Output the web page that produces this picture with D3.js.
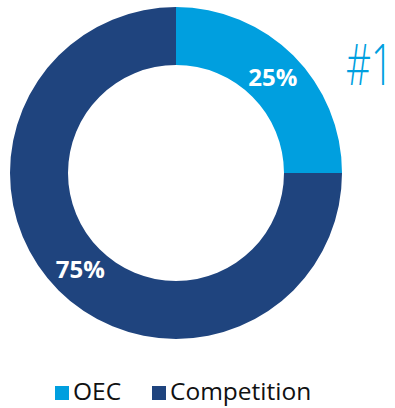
<!DOCTYPE html>
<html>
<head>
<meta charset="utf-8">
<script src="https://cdn.jsdelivr.net/npm/d3@7"></script>
<style>
  html, body { margin: 0; padding: 0; background: #fff; }
  svg { display: block; }
</style>
</head>
<body>
<svg id="chart" width="395" height="408"></svg>
<script>
// Share of the market: OEC versus competition
const categories = ["OEC", "Competition"];
const shares = [25, 75];
const colors = ["#009FDF", "#1F447E"];
const rankText = "#1";

const svg = d3.select("#chart");
const cx = 176, cy = 173;
const outerR = 166, innerR = 108;

const pie = d3.pie().sort(null).value(d => d.value);
const arcs = pie(categories.map((c, i) => ({ name: c, value: shares[i], color: colors[i] })));
const arc = d3.arc().innerRadius(innerR).outerRadius(outerR);

const g = svg.append("g").attr("transform", `translate(${cx},${cy})`);
g.selectAll("path.slice")
  .data(arcs)
  .join("path")
  .attr("class", "slice")
  .attr("d", arc)
  .attr("fill", d => d.data.color);

// Percentage labels placed along each ring segment
const labelPos = [
  { angle: 0.785, r: 137 },   // OEC
  { angle: 3.93, r: 135 }     // Competition
];
g.selectAll("text.pct")
  .data(arcs)
  .join("text")
  .attr("class", "pct")
  .attr("x", (d, i) => Math.sin(labelPos[i].angle) * labelPos[i].r)
  .attr("y", (d, i) => -Math.cos(labelPos[i].angle) * labelPos[i].r)
  .attr("text-anchor", "middle")
  .attr("dominant-baseline", "central")
  .attr("font-family", "'Open Sans', sans-serif")
  .attr("font-weight", 700)
  .attr("font-size", 24)
  .attr("fill", "#fff")
  .text(d => d.data.value + "%");

// Rank badge, squeezed to sit beside the ring
svg.append("text")
  .attr("x", 346)
  .attr("y", 85)
  .attr("font-family", "'Open Sans', sans-serif")
  .attr("font-weight", 300)
  .attr("font-size", 57)
  .attr("textLength", 47)
  .attr("lengthAdjust", "spacingAndGlyphs")
  .attr("fill", "#009FDF")
  .text(rankText);

// Legend
const legendX = [55, 152];
const legend = svg.selectAll("g.legend")
  .data(categories)
  .join("g")
  .attr("class", "legend")
  .attr("transform", (d, i) => `translate(${legendX[i]},386)`);
legend.append("rect")
  .attr("width", 14).attr("height", 14)
  .attr("fill", (d, i) => colors[i]);
legend.append("text")
  .attr("x", 18)
  .attr("y", 14)
  .attr("font-family", "'Open Sans', sans-serif")
  .attr("font-size", 24.5)
  .attr("fill", "#111")
  .text(d => d);
</script>
</body>
</html>
